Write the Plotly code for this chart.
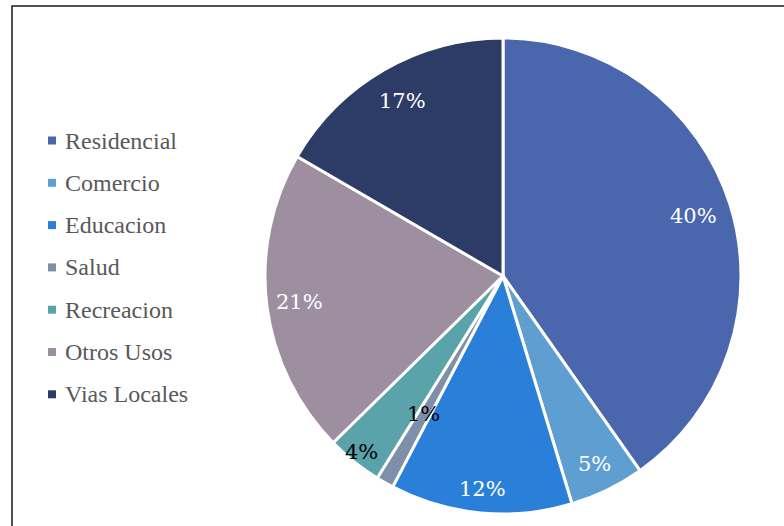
import math
import plotly.graph_objects as go

# ---- data ----
categories = ["Residencial", "Comercio", "Educacion", "Salud", "Recreacion", "Otros Usos", "Vias Locales"]
values = [40.4, 5.1, 12.4, 1.2, 3.8, 20.8, 16.7]

# ---- style ----
colors = ["#4A67AD", "#5F9ED1", "#2A7FD8", "#7F8FA9", "#5BA3AA", "#9E8FA0", "#2D3C66"]
label_colors = ["white", "white", "white", "black", "black", "white", "white"]
label_radius = [0.84, 0.88, 0.90, 0.67, 0.95, 0.86, 0.85]

W, H = 784, 526
cx, cy, R = 503, 276, 238

fig = go.Figure(go.Pie(
    labels=categories,
    values=values,
    sort=False,
    direction="clockwise",
    rotation=0,
    marker=dict(colors=colors, line=dict(color="white", width=3)),
    textinfo="none",
    hoverinfo="label+percent",
    showlegend=False,
    domain=dict(x=[(cx - R) / W, (cx + R) / W], y=[1 - (cy + R) / H, 1 - (cy - R) / H]),
))

total = sum(values)
annotations = []
cum = 0.0
for cat, v, lc, lr in zip(categories, values, label_colors, label_radius):
    mid = (cum + v / 2) / total * 2 * math.pi
    cum += v
    px = cx + lr * R * math.sin(mid)
    py = cy - lr * R * math.cos(mid)
    annotations.append(dict(
        x=px / W, y=1 - py / H, xref="paper", yref="paper",
        text=f"{round(v / total * 100):.0f}%", showarrow=False,
        font=dict(family="DejaVu Serif", size=21, color=lc),
        xanchor="center", yanchor="middle",
    ))

# manual legend
SERIF = "Liberation Serif, Times New Roman, serif"
shapes = []
leg_x, leg_y0, leg_dy = 52, 140.5, 42.3
for i, (cat, col) in enumerate(zip(categories, colors)):
    yy = leg_y0 + i * leg_dy
    shapes.append(dict(type="rect", xref="paper", yref="paper",
                       x0=(leg_x - 4) / W, x1=(leg_x + 4) / W,
                       y0=1 - (yy + 4) / H, y1=1 - (yy - 4) / H,
                       fillcolor=col, line=dict(width=0)))
    annotations.append(dict(
        x=63 / W, y=1 - yy / H, xref="paper", yref="paper",
        text=cat, showarrow=False, xanchor="left", yanchor="middle",
        font=dict(family=SERIF, size=24, color="#595959"),
    ))

# chart frame
shapes.append(dict(type="rect", xref="paper", yref="paper",
                   x0=12 / W, y0=1 - 6 / H, x1=1.02, y1=-0.05,
                   line=dict(color="#1a1a1a", width=1.5)))

fig.update_layout(
    width=W, height=H,
    margin=dict(l=0, r=0, t=0, b=0),
    paper_bgcolor="white", plot_bgcolor="white",
    annotations=annotations, shapes=shapes,
)

fig.write_html("out.html", config={"displayModeBar": False},
               post_script="document.body.style.margin='0';")
